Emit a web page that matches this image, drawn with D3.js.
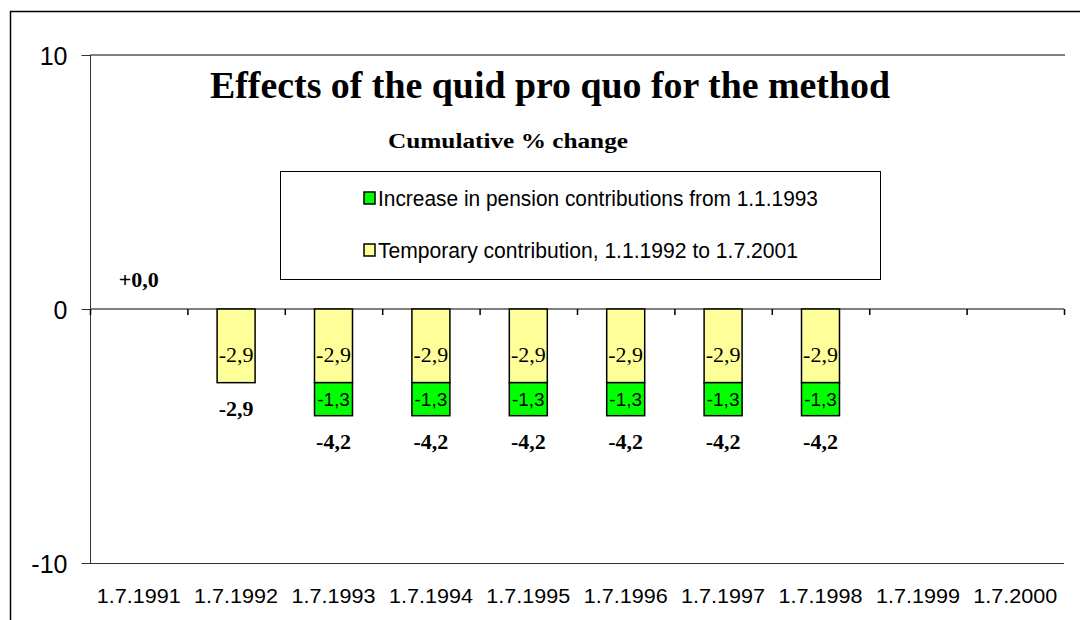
<!DOCTYPE html>
<html>
<head>
<meta charset="utf-8">
<script src="https://cdnjs.cloudflare.com/ajax/libs/d3/7.8.5/d3.min.js"></script>
<style>
  html, body { margin: 0; padding: 0; background: #fff; }
  svg { display: block; }
</style>
</head>
<body>
<svg id="chart" width="1080" height="620"></svg>
<script>
const categories = ["1.7.1991","1.7.1992","1.7.1993","1.7.1994","1.7.1995","1.7.1996","1.7.1997","1.7.1998","1.7.1999","1.7.2000"];
const temporaryContribution = [0, -2.9, -2.9, -2.9, -2.9, -2.9, -2.9, -2.9, null, null];
const pensionIncrease = [0, 0, -1.3, -1.3, -1.3, -1.3, -1.3, -1.3, null, null];
const totals = [0, -2.9, -4.2, -4.2, -4.2, -4.2, -4.2, -4.2, null, null];
const yTicks = [10, 0, -10];
const seriesNames = ["Increase in pension contributions from 1.1.1993", "Temporary contribution, 1.1.1992 to 1.7.2001"];
const titleText = "Effects of the quid pro quo for the method";
const subtitleText = "Cumulative % change";

(function () {
const svg = d3.select("#chart");
const narrow = "'Liberation Sans Narrow', 'Arial Narrow', 'Liberation Sans', Arial, sans-serif";
const serif = "'Liberation Serif', 'Times New Roman', serif";
const sans = "'Liberation Sans', Arial, sans-serif";
const fmt = v => (v >= 0 ? "+" : "") + d3.format(".1f")(v).replace("\u2212", "-").replace(".", ",");

// outer border (extends past right/bottom edge)
svg.append("rect").attr("x", 10.5).attr("y", 11.5).attr("width", 1100).attr("height", 700)
  .attr("fill", "none").attr("stroke", "#000").attr("stroke-width", 1.5);

const pLeft = 90, pRight = 1064, pTop = 55, pBottom = 563;
const x = d3.scaleBand().domain(categories).range([pLeft, pRight]).paddingInner(0.61).paddingOuter(0.305);
const y = d3.scaleLinear().domain([-10, 10]).range([pBottom, pTop]);

// top border line at 10
svg.append("line").attr("x1", pLeft).attr("x2", pRight + 1).attr("y1", y(10)).attr("y2", y(10))
  .attr("stroke", "#808080").attr("stroke-width", 2);
// bottom line at -10
svg.append("line").attr("x1", pLeft).attr("x2", pRight).attr("y1", y(-10) + 0.5).attr("y2", y(-10) + 0.5)
  .attr("stroke", "#333").attr("stroke-width", 1);

// y axis
const yAxis = d3.axisLeft(y).tickValues(yTicks).tickSize(9).tickPadding(14).tickFormat(d3.format("d"));
const gy = svg.append("g").attr("transform", `translate(${pLeft + 0.5},0)`).call(yAxis);
gy.select(".domain").attr("stroke", "#333").attr("d", `M0,${pTop}V${pBottom}`);
gy.selectAll(".tick line").attr("stroke", "#333");
gy.selectAll(".tick text").attr("font-family", sans).attr("font-size", 25).attr("fill", "#000")
  .attr("dy", "0.36em").text(d => String(d));

// zero line with category ticks
const step = x.step();
svg.append("line").attr("x1", pLeft).attr("x2", pRight).attr("y1", y(0)).attr("y2", y(0))
  .attr("stroke", "#555").attr("stroke-width", 1.5);
svg.append("g").selectAll("line").data(d3.range(categories.length + 1)).join("line")
  .attr("x1", i => pLeft + i * step + 0.5).attr("x2", i => pLeft + i * step + 0.5)
  .attr("y1", y(0)).attr("y2", y(0) + 6).attr("stroke", "#000").attr("stroke-width", 1.5);

// x labels
svg.append("g").selectAll("text").data(categories).join("text")
  .attr("x", d => x(d) + x.bandwidth() / 2).attr("y", 603)
  .attr("text-anchor", "middle").attr("font-family", narrow).attr("font-size", 20)
  .attr("textLength", 84).attr("lengthAdjust", "spacingAndGlyphs").text(d => d);

// bars
const bw = x.bandwidth();
const bars = svg.append("g");
categories.forEach((c, i) => {
  const t = temporaryContribution[i], p = pensionIncrease[i];
  if (t !== null && t !== 0) {
    bars.append("rect").attr("x", x(c)).attr("y", y(0)).attr("width", bw).attr("height", y(t) - y(0))
      .attr("fill", "#FFFF99").attr("stroke", "#000").attr("stroke-width", 1.5);
    bars.append("text").attr("x", x(c) + bw / 2).attr("y", (y(0) + y(t)) / 2 + 16)
      .attr("text-anchor", "middle").attr("font-family", serif).attr("font-size", 22).text(fmt(t));
  }
  if (p !== null && p !== 0) {
    bars.append("rect").attr("x", x(c)).attr("y", y(t)).attr("width", bw).attr("height", y(t + p) - y(t))
      .attr("fill", "#00FF00").attr("stroke", "#000").attr("stroke-width", 1.5);
    bars.append("text").attr("x", x(c) + bw / 2).attr("y", (y(t) + y(t + p)) / 2 + 7)
      .attr("text-anchor", "middle").attr("font-family", sans).attr("font-size", 19).text(fmt(p));
  }
  const tot = totals[i];
  if (tot !== null) {
    const ty = tot === 0 ? y(0) - 22 : y(tot) + 33;
    bars.append("text").attr("x", x(c) + bw / 2).attr("y", ty)
      .attr("text-anchor", "middle").attr("font-family", serif).attr("font-weight", "bold")
      .attr("font-size", 22).text(fmt(tot));
  }
});

// title
svg.append("text").attr("x", 550).attr("y", 98).attr("text-anchor", "middle")
  .attr("font-family", serif).attr("font-weight", "bold").attr("font-size", 38)
  .attr("textLength", 680).attr("lengthAdjust", "spacingAndGlyphs").text(titleText);
svg.append("text").attr("x", 508).attr("y", 148).attr("text-anchor", "middle")
  .attr("font-family", serif).attr("font-weight", "bold").attr("font-size", 22)
  .attr("textLength", 240).attr("lengthAdjust", "spacingAndGlyphs").text(subtitleText);

// legend
const lg = svg.append("g");
lg.append("rect").attr("x", 280.5).attr("y", 171.5).attr("width", 600).attr("height", 108)
  .attr("fill", "#fff").attr("stroke", "#000").attr("stroke-width", 1);
const legendColors = ["#00FF00", "#FFFF99"];
const legendLen = [440, 420];
seriesNames.forEach((name, i) => {
  const cy = 198 + i * 52;
  lg.append("rect").attr("x", 364).attr("y", cy - 6).attr("width", 11).attr("height", 12)
    .attr("fill", legendColors[i]).attr("stroke", "#000").attr("stroke-width", 1.5);
  lg.append("text").attr("x", 378).attr("y", cy + 8).attr("font-family", narrow).attr("font-size", 22)
    .attr("textLength", legendLen[i]).attr("lengthAdjust", "spacingAndGlyphs").text(name);
});
})();
</script>
</body>
</html>
